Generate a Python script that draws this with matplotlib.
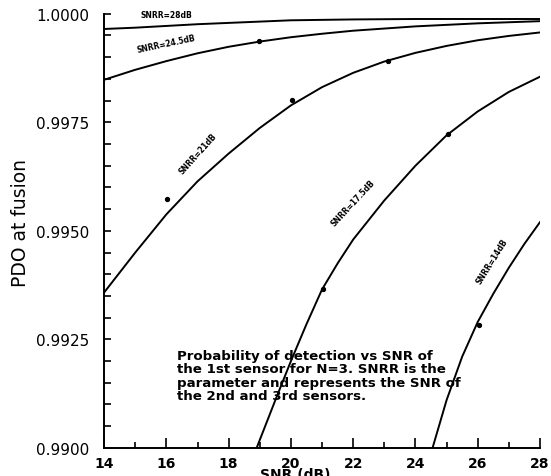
"""
    PDO at fusion vs SNR of the 1st sensor (N=3), one curve per SNRR
"""

import numpy as np
import matplotlib.pyplot as plt
from matplotlib.ticker import MultipleLocator

# courbes : SNR (dB) -> PDO
snr_28 = [14, 15, 16, 17, 18, 19, 20, 22, 24, 26, 28]
pdo_28 = [0.99965, 0.99968, 0.99972, 0.99976, 0.99979, 0.99982, 0.99985, 0.99987, 0.99988, 0.99988, 0.99988]

snr_245 = [14, 15, 16, 17, 18, 19, 20, 21, 22, 24, 26, 28]
pdo_245 = [0.99848, 0.99871, 0.99891, 0.99909, 0.99924, 0.99936, 0.99946, 0.99954,
           0.99961, 0.99971, 0.99978, 0.99983]

snr_21 = [14, 15, 16, 17, 18, 19, 20, 21, 22, 23, 24, 25, 26, 27, 28]
pdo_21 = [0.99358, 0.99450, 0.99538, 0.99614, 0.99678, 0.99737, 0.99789, 0.99831,
          0.99864, 0.99890, 0.99910, 0.99926, 0.99939, 0.99949, 0.99957]

snr_175 = [18.9, 19.5, 20, 20.5, 21, 21.5, 22, 23, 24, 25, 26, 27, 28]
pdo_175 = [0.9900, 0.9911, 0.9920, 0.99285, 0.99365, 0.99425, 0.9948, 0.9957,
           0.9965, 0.9972, 0.99775, 0.9982, 0.99855]

snr_14 = [24.55, 25, 25.5, 26, 26.5, 27, 27.5, 28]
pdo_14 = [0.9900, 0.9911, 0.9921, 0.9929, 0.99355, 0.99415, 0.9947, 0.9952]

# points de simulation
dots_snr = [16.03, 20.05, 23.11, 18.99, 21.02, 25.04, 26.04]
dots_pdo = [0.99573, 0.99801, 0.99891, 0.99938, 0.99365, 0.99723, 0.99284]

courbes = [(snr_28, pdo_28), (snr_245, pdo_245), (snr_21, pdo_21),
           (snr_175, pdo_175), (snr_14, pdo_14)]

# étiquettes : texte, position, angle
etiquettes = [("SNRR=28dB", 16.0, 0.99998, 0),
              ("SNRR=24.5dB", 16.0, 0.99932, 12),
              ("SNRR=21dB", 17.0, 0.99680, 48),
              ("SNRR=17.5dB", 22.0, 0.99566, 47),
              ("SNRR=14dB", 26.45, 0.99432, 58)]

note = ("Probability of detection vs SNR of\n"
        "the 1st sensor for N=3. SNRR is the\n"
        "parameter and represents the SNR of\n"
        "the 2nd and 3rd sensors.")

fig = plt.figure(figsize=(5.51, 4.77), dpi=100)
ax = fig.add_axes([0.189, 0.059, 0.791, 0.91])

for x, y in courbes:
    ax.plot(x, y, color="black", lw=1.4)
ax.plot(dots_snr, dots_pdo, "o", color="black", ms=2.8)

for txt, x, y, rot in etiquettes:
    ax.text(x, y, txt, fontsize=5.5, fontweight="bold", rotation=rot,
            rotation_mode="anchor", ha="center", va="center", clip_on=False)

ax.text(16.35, 0.99228, note, fontsize=9.6, fontweight="bold",
        ha="left", va="top", linespacing=1.05)

ax.set_xlim(14, 28)
ax.set_ylim(0.99, 1.0)
ax.spines["top"].set_visible(False)
ax.spines["right"].set_visible(False)
ax.spines["left"].set_linewidth(1.4)
ax.spines["bottom"].set_linewidth(1.4)

ax.xaxis.set_major_locator(MultipleLocator(2))
ax.xaxis.set_minor_locator(MultipleLocator(1))
ax.yaxis.set_major_locator(MultipleLocator(0.0025))
ax.yaxis.set_minor_locator(MultipleLocator(0.0005))
ax.tick_params(axis="x", which="major", direction="in", length=7, width=1.2, pad=6)
ax.tick_params(axis="x", which="minor", direction="in", length=4, width=1.2)
ax.tick_params(axis="y", which="both", direction="in", length=5, width=1.2, pad=11)
ax.set_yticks([0.99, 0.9925, 0.995, 0.9975, 1.0])
ax.set_yticklabels(["0.9900", "0.9925", "0.9950", "0.9975", "1.0000"], fontsize=11)
ax.set_xticks(range(14, 29, 2))
ax.set_xticklabels([str(v) for v in range(14, 29, 2)], fontsize=10, fontweight="bold")

ax.set_ylabel("PDO at fusion", fontsize=13.5)
ax.yaxis.set_label_coords(-0.17, 0.52)
ax.set_xlabel("SNR (dB)", fontsize=10, fontweight="bold")
ax.xaxis.set_label_coords(0.438, -0.045)

plt.savefig("out.png", dpi=100)
